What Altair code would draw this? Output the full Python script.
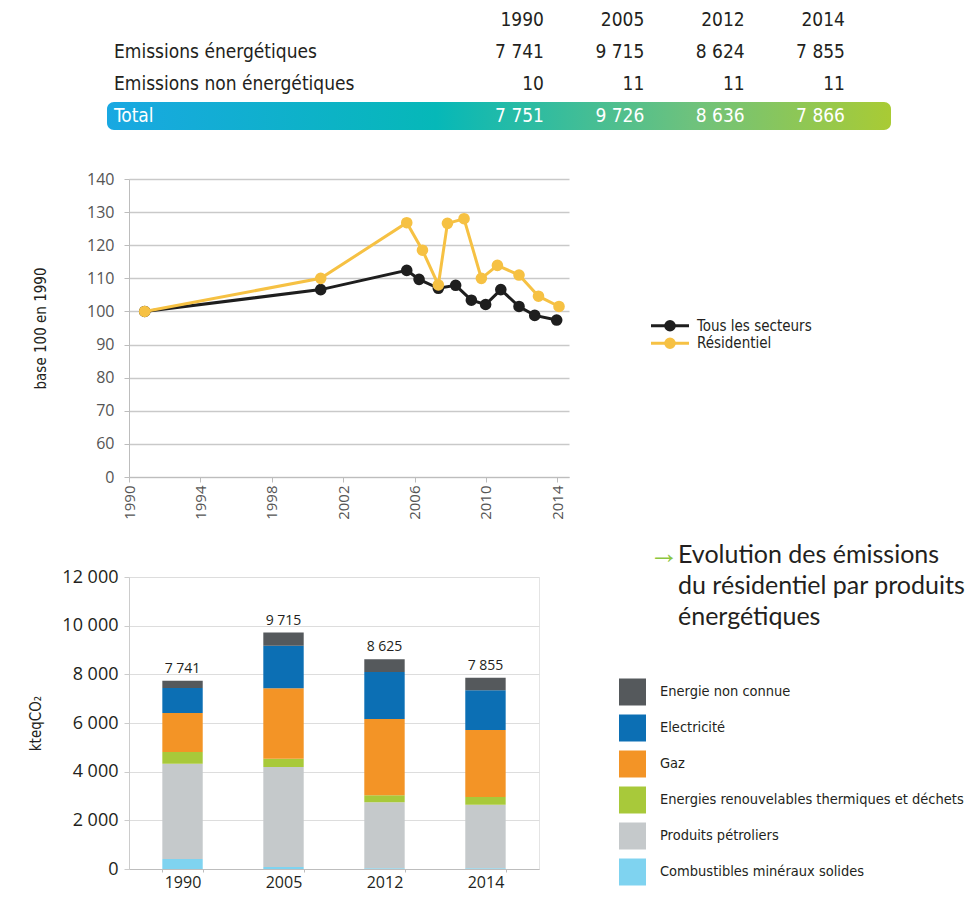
import altair as alt
import pandas as pd

NARROW = "Liberation Sans Narrow, DejaVu Sans Condensed, sans-serif"
SANS = "Open Sans"
TITLE_FONT = "Lato"

# ---------------- table data ----------------
table_years = ["1990", "2005", "2012", "2014"]
row_labels = ["Emissions énergétiques", "Emissions non énergétiques", "Total"]
emis_energetiques = [7741, 9715, 8624, 7855]
emis_non_energetiques = [10, 11, 11, 11]
emis_total = [7751, 9726, 8636, 7866]

# ---------------- line chart data (base 100 en 1990) ----------------
series = ["Tous les secteurs", "Résidentiel"]
series_colors = ["#1e1e1e", "#f6c143"]
tous_x = [1990.88, 2000.74, 2005.56, 2006.25, 2007.33, 2008.30, 2009.18, 2009.98, 2010.83, 2011.85, 2012.73, 2013.96]
tous_y = [100.0, 106.6, 112.4, 109.7, 107.0, 107.9, 103.4, 102.1, 106.6, 101.5, 98.8, 97.4]
res_x = [1990.88, 2000.74, 2005.56, 2006.44, 2007.33, 2007.84, 2008.77, 2009.74, 2010.64, 2011.85, 2012.94, 2014.09]
res_y = [100.0, 110.0, 126.8, 118.5, 108.0, 126.6, 128.0, 110.0, 113.9, 111.0, 104.6, 101.5]
line_x_ticks = [1990, 1994, 1998, 2002, 2006, 2010, 2014]
line_y_ticks = [50, 60, 70, 80, 90, 100, 110, 120, 130, 140]

# ---------------- bar chart data (kteqCO2) ----------------
bar_years = ["1990", "2005", "2012", "2014"]
energies = ["Combustibles minéraux solides", "Produits pétroliers",
            "Energies renouvelables thermiques et déchets", "Gaz",
            "Electricité", "Energie non connue"]
energy_colors = ["#7fd3f0", "#c5c9cb", "#a8c93a", "#f39426", "#0c6fb4", "#55595c"]
combustibles = [410, 80, 30, 30]
petroliers = [3919, 4112, 2710, 2614]
renouvelables = [479, 342, 288, 315]
gaz = [1603, 2891, 3137, 2754]
electricite = [1027, 1754, 1932, 1630]
non_connue = [303, 536, 528, 512]
bar_totals = [7741, 9715, 8625, 7855]
bar_y_ticks = [0, 2000, 4000, 6000, 8000, 10000, 12000]


def fmt(v):
    return f"{v:,}".replace(",", " ")


# ================= TABLE PANEL =================
tab_rows = ["header"] + row_labels
cells = []
for i, yr in enumerate(table_years):
    cells.append({"row": "header", "annee": yr, "txt": yr, "tot": False})
    cells.append({"row": row_labels[0], "annee": yr, "txt": fmt(emis_energetiques[i]), "tot": False})
    cells.append({"row": row_labels[1], "annee": yr, "txt": fmt(emis_non_energetiques[i]), "tot": False})
    cells.append({"row": row_labels[2], "annee": yr, "txt": fmt(emis_total[i]), "tot": True})
cells_df = pd.DataFrame(cells)
labels_df = pd.DataFrame({"row": row_labels, "txt": row_labels,
                          "tot": [False, False, True]})

row_scale = alt.Scale(domain=tab_rows, range=[12, 108], padding=0)
col_scale = alt.Scale(domain=table_years, range=[415, 716], padding=0)

gradient = alt.LinearGradient(
    gradient="linear", x1=0, x2=1, y1=0, y2=0,
    stops=[alt.GradientStop(color="#19a8e2", offset=0),
           alt.GradientStop(color="#06b8b8", offset=0.42),
           alt.GradientStop(color="#6fc27c", offset=0.75),
           alt.GradientStop(color="#a9cb34", offset=1)])

band = alt.Chart(pd.DataFrame({"k": [0]})).mark_rect(
    color=gradient, cornerRadius=7).encode(
    x=alt.value(-22), x2=alt.value(762), y=alt.value(94), y2=alt.value(122))

cell_text = alt.Chart(cells_df).mark_text(
    align="right", baseline="middle", font=NARROW, fontSize=19).encode(
    x=alt.X("annee:O", scale=col_scale, axis=None),
    y=alt.Y("row:N", scale=row_scale, axis=None),
    text="txt:N",
    color=alt.condition("datum.tot", alt.value("#ffffff"), alt.value("#231f20")))

label_text = alt.Chart(labels_df).mark_text(
    align="left", baseline="middle", font=NARROW, fontSize=19).encode(
    x=alt.value(-15),
    y=alt.Y("row:N", scale=row_scale, axis=None),
    text="txt:N",
    color=alt.condition("datum.tot", alt.value("#ffffff"), alt.value("#231f20")))

table_panel = alt.layer(band, cell_text, label_text).properties(width=440, height=71)

placeholder = alt.Chart(pd.DataFrame({"k": [0]})).mark_point(opacity=0, size=1).encode(
    x=alt.value(20), y=alt.value(30)).properties(width=360, height=71)

# ================= LINE CHART =================
line_df = pd.DataFrame({
    "annee": tous_x + res_x,
    "indice": tous_y + res_y,
    "serie": [series[0]] * len(tous_x) + [series[1]] * len(res_x),
})

x_line = alt.X("annee:Q",
               scale=alt.Scale(domain=[1990, 2014.65], nice=False, zero=False),
               axis=alt.Axis(values=line_x_ticks, format="d", title=None, labelAngle=270,
                             grid=False, domainColor="#bdbdbd", tickColor="#bdbdbd",
                             tickSize=5, labelFont=SANS, labelFontSize=15,
                             labelColor="#555555", labelPadding=3))
y_line = alt.Y("indice:Q",
               scale=alt.Scale(domain=[50, 140], nice=False, zero=False),
               axis=alt.Axis(values=line_y_ticks,
                             labelExpr="datum.value == 50 ? '0' : datum.label",
                             title="base 100 en 1990", titleFont=NARROW, titleFontSize=15,
                             titleFontWeight="normal", titleColor="#231f20", titlePadding=38,
                             grid=True, gridColor="#c9c9c9", gridWidth=1.5,
                             domainColor="#bdbdbd", tickColor="#bdbdbd", tickSize=5,
                             labelFont=SANS, labelFontSize=16, labelColor="#555555",
                             labelPadding=10))
c_line = alt.Color("serie:N", scale=alt.Scale(domain=series, range=series_colors), legend=None)

line_layers = []
for s in series:
    b = alt.Chart(line_df).transform_filter(alt.datum.serie == s).encode(
        x=x_line, y=y_line, color=c_line)
    line_layers.append(b.mark_line(strokeWidth=3))
    line_layers.append(b.mark_circle(size=135, opacity=1))
line_chart = alt.layer(*line_layers).properties(width=440, height=298)

leg_df = pd.DataFrame({"serie": series})
leg_y = alt.Y("serie:N", scale=alt.Scale(domain=series, range=[138, 173], padding=0), axis=None)
leg_c = alt.Color("serie:N", scale=alt.Scale(domain=series, range=series_colors), legend=None)
leg_rule = alt.Chart(leg_df).mark_rule(strokeWidth=3).encode(
    x=alt.value(62), x2=alt.value(100), y=leg_y, color=leg_c)
leg_pt = alt.Chart(leg_df).mark_circle(size=135, opacity=1).encode(
    x=alt.value(81), y=leg_y, color=leg_c)
leg_txt = alt.Chart(leg_df).mark_text(align="left", baseline="middle", font=NARROW,
                                      fontSize=15, color="#231f20").encode(
    x=alt.value(108), y=leg_y, text="serie:N")
line_legend = alt.layer(leg_rule, leg_pt, leg_txt).properties(width=360, height=298)

# ================= BAR CHART =================
stack_vals = [combustibles, petroliers, renouvelables, gaz, electricite, non_connue]
bar_rows = []
for k, (e, vals) in enumerate(zip(energies, stack_vals)):
    for i, yr in enumerate(bar_years):
        bar_rows.append({"annee": yr, "energie": e, "valeur": vals[i], "ordre": k})
bar_df = pd.DataFrame(bar_rows)
tot_df = pd.DataFrame({"annee": bar_years, "total": bar_totals,
                       "txt": [fmt(v) for v in bar_totals]})

x_bar = alt.X("annee:N", scale=alt.Scale(domain=bar_years, paddingInner=0.6, paddingOuter=0.33),
              axis=alt.Axis(title=None, labelAngle=0, labelFont=SANS, labelFontSize=16,
                            labelColor="#231f20", domainColor="#bdbdbd", tickColor="#bdbdbd",
                            tickBand="extent", tickSize=3, labelPadding=2))
bar_axis = alt.Axis(values=bar_y_ticks,
                    labelExpr="replace(format(datum.value, ','), ',', ' ')",
                    title="kteqCO₂", titleFont=NARROW, titleFontSize=15,
                    titleFontWeight="normal", titleColor="#231f20", titlePadding=18,
                    grid=True, gridColor="#dddddd", gridWidth=1,
                    domainColor="#cccccc", tickColor="#cccccc", tickSize=5,
                    labelFont=SANS, labelFontSize=18, labelColor="#231f20", labelPadding=6)
y_scale_bar = alt.Scale(domain=[0, 12000], nice=False)

bars = alt.Chart(bar_df).mark_bar().encode(
    x=x_bar,
    y=alt.Y("valeur:Q", stack="zero", scale=y_scale_bar, axis=bar_axis),
    color=alt.Color("energie:N", scale=alt.Scale(domain=energies, range=energy_colors), legend=None),
    order=alt.Order("ordre:Q", sort="ascending"),
)
tot_text = alt.Chart(tot_df).mark_text(baseline="bottom", dy=-5, font=SANS, fontSize=14,
                                       color="#231f20").encode(
    x=x_bar, y=alt.Y("total:Q", scale=y_scale_bar, axis=bar_axis), text="txt:N")
bar_chart = alt.layer(bars, tot_text).properties(
    width=410, height=292, view=alt.ViewBackground(stroke="#e4e4e4", strokeWidth=1))

legend_order = list(reversed(energies))
legend_colors = list(reversed(energy_colors))
eleg_df = pd.DataFrame({"energie": legend_order})
eleg_y = alt.Y("energie:N", scale=alt.Scale(domain=legend_order, range=[115, 295], padding=0), axis=None)
eleg_c = alt.Color("energie:N", scale=alt.Scale(domain=legend_order, range=legend_colors), legend=None)
eleg_sq = alt.Chart(eleg_df).mark_square(size=729, opacity=1).encode(
    x=alt.value(43.5), y=eleg_y, color=eleg_c)
eleg_txt = alt.Chart(eleg_df).mark_text(align="left", baseline="middle", font=NARROW,
                                        fontSize=14.5, color="#231f20").encode(
    x=alt.value(71), y=eleg_y, text="energie:N")
arrow = alt.Chart(pd.DataFrame({"k": [0]})).mark_text(
    text="→", align="left", baseline="middle", font=SANS, fontSize=30, fontWeight=300,
    color="#8cc63f").encode(x=alt.value(60), y=alt.value(-23))
title_txt = alt.Chart(pd.DataFrame({"k": [0]})).mark_text(
    text=["Evolution des émissions", "du résidentiel par produits", "énergétiques"],
    align="left", baseline="middle", font=TITLE_FONT, fontSize=25, lineHeight=31,
    color="#231f20").encode(x=alt.value(89), y=alt.value(-22))
bar_side = alt.layer(eleg_sq, eleg_txt, arrow, title_txt).properties(width=360, height=292)

chart = alt.concat(
    table_panel, placeholder,
    line_chart, line_legend,
    bar_chart, bar_side,
    columns=2, spacing={"row": 100, "column": 20}, bounds="flush",
).resolve_scale(
    x="independent", y="independent", color="independent"
).properties(
    padding={"left": 20, "top": 0, "right": 0, "bottom": 0}
).configure_view(strokeWidth=0, stroke="transparent")

chart.save("out.html", embed_options={"renderer": "svg", "actions": False})
